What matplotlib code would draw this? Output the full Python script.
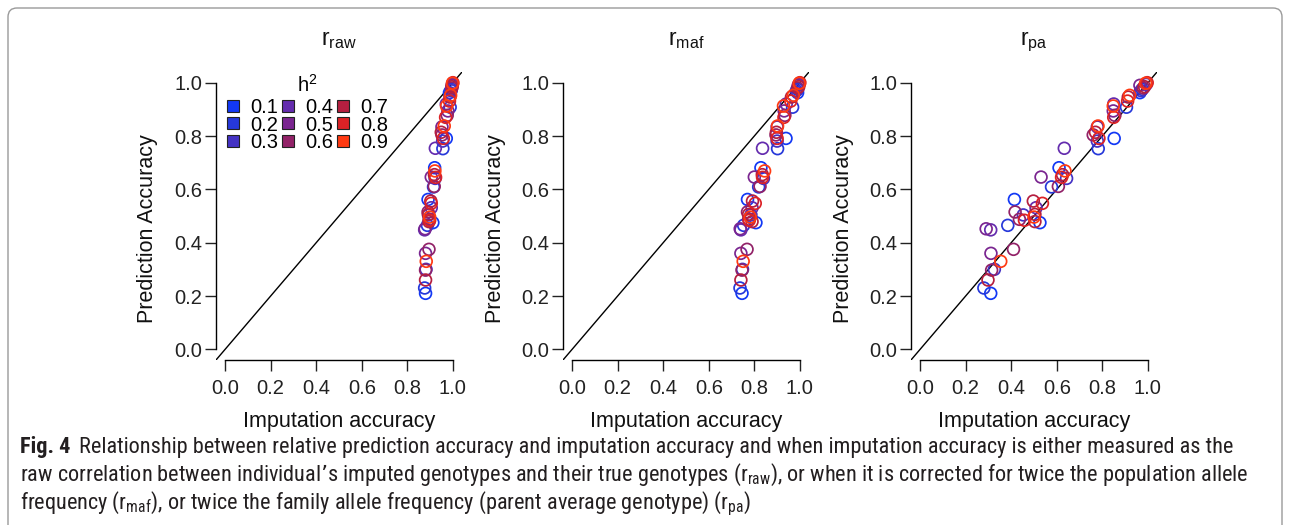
import matplotlib
matplotlib.use("Agg")
import matplotlib.pyplot as plt
from matplotlib import font_manager
from matplotlib.patches import FancyBboxPatch
from matplotlib.lines import Line2D
from matplotlib.transforms import IdentityTransform

# ---------------- data ----------------
h2_levels = [0.1, 0.2, 0.3, 0.4, 0.5, 0.6, 0.7, 0.8, 0.9]
h2_colors = ["#1238F5", "#2638DA", "#4432C4", "#642CAE", "#7A2590",
             "#922268", "#B51F40", "#DC2226", "#FF3A12"]

pred_acc = [0.210, 0.230, 0.260, 0.297, 0.300, 0.330, 0.360, 0.375, 0.448, 0.452,
            0.465, 0.475, 0.479, 0.484, 0.4875, 0.496, 0.504, 0.506, 0.515, 0.531,
            0.5475, 0.556, 0.562, 0.609, 0.611, 0.646, 0.645, 0.641, 0.669, 0.681,
            0.655, 0.754, 0.7525, 0.781, 0.791, 0.791, 0.804, 0.814, 0.834, 0.8375,
            0.870, 0.8775, 0.894, 0.9125, 0.908, 0.920, 0.931, 0.946, 0.9525, 0.9625,
            0.970, 0.980, 0.990, 0.9975, 1.000, 0.985, 0.994, 0.975]
imp_raw = [0.880, 0.876, 0.880, 0.880, 0.882, 0.883, 0.880, 0.895, 0.876, 0.878,
           0.888, 0.912, 0.895, 0.898, 0.896, 0.898, 0.893, 0.893, 0.891, 0.905,
           0.905, 0.903, 0.891, 0.915, 0.918, 0.905, 0.924, 0.922, 0.921, 0.920,
           0.919, 0.923, 0.956, 0.955, 0.971, 0.958, 0.952, 0.949, 0.952, 0.962,
           0.968, 0.975, 0.978, 0.972, 0.988, 0.971, 0.985, 0.987, 0.990, 0.985,
           0.992, 0.995, 0.997, 0.998, 1.000, 0.996, 0.998, 0.993]
imp_maf = [0.746, 0.737, 0.741, 0.746, 0.748, 0.751, 0.741, 0.768, 0.741, 0.738,
           0.753, 0.807, 0.790, 0.778, 0.775, 0.782, 0.785, 0.775, 0.770, 0.790,
           0.804, 0.792, 0.770, 0.819, 0.825, 0.800, 0.836, 0.840, 0.845, 0.829,
           0.835, 0.836, 0.902, 0.900, 0.939, 0.900, 0.895, 0.897, 0.900, 0.902,
           0.930, 0.934, 0.931, 0.928, 0.968, 0.940, 0.960, 0.963, 0.971, 0.990,
           0.985, 0.990, 0.993, 0.997, 1.000, 0.995, 0.996, 0.990]
imp_pa = [0.310, 0.280, 0.298, 0.314, 0.326, 0.354, 0.311, 0.410, 0.310, 0.290,
          0.385, 0.526, 0.504, 0.458, 0.436, 0.500, 0.453, 0.504, 0.417, 0.509,
          0.537, 0.497, 0.414, 0.577, 0.607, 0.531, 0.621, 0.643, 0.636, 0.610,
          0.625, 0.633, 0.782, 0.778, 0.852, 0.785, 0.760, 0.770, 0.778, 0.781,
          0.850, 0.855, 0.848, 0.848, 0.906, 0.850, 0.911, 0.914, 0.920, 0.965,
          0.970, 0.980, 0.965, 0.990, 0.997, 0.985, 0.993, 0.975]
h2_of_point = [0.1, 0.2, 0.7, 0.6, 0.3, 0.9, 0.5, 0.6, 0.4, 0.5,
               0.2, 0.1, 0.7, 0.8, 0.6, 0.9, 0.3, 0.7, 0.6, 0.4,
               0.8, 0.7, 0.1, 0.2, 0.6, 0.5, 0.8, 0.3, 0.9, 0.1,
               0.7, 0.4, 0.2, 0.3, 0.1, 0.8, 0.6, 0.7, 0.5, 0.9,
               0.8, 0.6, 0.5, 0.9, 0.2, 0.4, 0.8, 0.7, 0.9, 0.1,
               0.3, 0.6, 0.5, 0.9, 0.8, 0.7, 0.4, 0.2]

panel_titles = [r"$\mathregular{r_{raw}}$", r"$\mathregular{r_{maf}}$", r"$\mathregular{r_{pa}}$"]
panel_x = [imp_raw, imp_maf, imp_pa]
tick_vals = [0.0, 0.2, 0.4, 0.6, 0.8, 1.0]
tick_labels = ["0.0", "0.2", "0.4", "0.6", "0.8", "1.0"]

caption_bold = "Fig. 4"
caption_lines = [
    "Relationship between relative prediction accuracy and imputation accuracy and when imputation accuracy is either measured as the",
    r"raw correlation between individual’s imputed genotypes and their true genotypes ($\mathregular{r_{raw}}$), or when it is corrected for twice the population allele",
    r"frequency ($\mathregular{r_{maf}}$), or twice the family allele frequency (parent average genotype) ($\mathregular{r_{pa}}$)",
]

# ---------------- figure ----------------
W, H = 1290, 525
plt.rcParams["font.family"] = ["Liberation Sans", "DejaVu Sans"]
fig = plt.figure(figsize=(W / 100, H / 100), dpi=100)
px = IdentityTransform()

names = {f.name for f in font_manager.fontManager.ttflist}
cap_family, cap_stretch = "DejaVu Sans", "condensed"
for cand in ["Liberation Sans Narrow", "Roboto Condensed", "Open Sans Condensed"]:
    if cand in names:
        cap_family, cap_stretch = cand, "normal"
        break

text_col = "#111111"
lefts = [216, 563, 911]
ax_w, ax_h, ax_bottom = 246, 288, 165
for i, left in enumerate(lefts):
    ax = fig.add_axes([left / W, ax_bottom / H, ax_w / W, ax_h / H])
    ax.set_xlim(-0.04, 1.04)
    ax.set_ylim(-0.04, 1.04)
    for s in ["top", "right"]:
        ax.spines[s].set_visible(False)
    for s in ["left", "bottom"]:
        ax.spines[s].set_bounds(0, 1)
        ax.spines[s].set_linewidth(1.0)
    ax.set_xticks(tick_vals)
    ax.set_xticklabels(tick_labels, fontsize=14.5)
    ax.set_yticks(tick_vals)
    ax.set_yticklabels(tick_labels, fontsize=14.5)
    ax.tick_params(axis="both", length=8, width=1.0, color="#222222", labelcolor="#222222")
    ax.tick_params(axis="x", pad=6)
    ax.tick_params(axis="y", pad=2)
    ax.patch.set_visible(False)
    ax.plot([-0.04, 1.04], [-0.04, 1.04], color="black", lw=1.0, zorder=1)
    xs = panel_x[i]
    for lev, col in zip(h2_levels, h2_colors):
        sx = [x for x, h in zip(xs, h2_of_point) if h == lev]
        sy = [y for y, h in zip(pred_acc, h2_of_point) if h == lev]
        ax.scatter(sx, sy, s=72, facecolors="none", edgecolors=col,
                   linewidths=1.25, zorder=2, clip_on=False)
    cx = left + ax_w / 2
    fig.text(cx, H - 45, panel_titles[i], transform=px, ha="center", va="baseline",
             fontsize=16.5, color=text_col)
    fig.text(cx, H - 427, "Imputation accuracy", transform=px, ha="center",
             va="baseline", fontsize=15.5, color=text_col)
    fig.text(left - 68, H - 229, "Prediction Accuracy", transform=px, ha="center",
             va="center", rotation=90, fontsize=15.5, color=text_col)
    if i == 0:
        handles = [Line2D([], [], marker="s", ls="none", markerfacecolor=c,
                          markeredgecolor="#222222", markersize=8, markeredgewidth=0.8)
                   for c in h2_colors]
        leg = ax.legend(handles, [f"{v:.1f}" for v in h2_levels], ncol=3,
                        loc="upper left", bbox_to_anchor=(0.04, 0.995), frameon=False,
                        title=r"$\mathregular{h^2}$", fontsize=14.5, title_fontsize=14.5,
                        handlelength=0.7, handletextpad=0.5, columnspacing=0.15,
                        labelspacing=-0.08, borderaxespad=0, borderpad=0)
        leg._legend_box.sep = 2

# ---------------- caption ----------------
cap_color = "#231F20"
renderer = fig.canvas.get_renderer()
target_right = 1233
base_size = 12.0
probe_b = fig.text(0, 0, caption_bold, transform=px, fontsize=base_size,
                   fontweight="bold", family=cap_family, fontstretch=cap_stretch)
probe_l = fig.text(0, 0, caption_lines[0], transform=px, fontsize=base_size,
                   family=cap_family, fontstretch=cap_stretch)
w_total = (probe_b.get_window_extent(renderer).width
           + probe_l.get_window_extent(renderer).width)
probe_b.remove()
probe_l.remove()
gap = 9
cap_size = base_size * (target_right - 20 - gap) / w_total

tb = fig.text(20, H - 453, caption_bold, transform=px, ha="left", va="baseline",
              fontsize=cap_size, fontweight="bold", family=cap_family,
              fontstretch=cap_stretch, color=cap_color)
bw = tb.get_window_extent(renderer).width
baselines = [453, 481, 509]
for j, (line, yb) in enumerate(zip(caption_lines, baselines)):
    x0 = 20 + bw + gap if j == 0 else 20
    fig.text(x0, H - yb, line, transform=px, ha="left", va="baseline",
             fontsize=cap_size, family=cap_family, fontstretch=cap_stretch,
             color=cap_color)

# ---------------- frame ----------------
frame = FancyBboxPatch((8, -30), 1274, H - 8 + 30,
                       boxstyle="round,pad=0,rounding_size=9", transform=px,
                       fill=False, edgecolor="#9A9A9A", lw=1.0)
fig.add_artist(frame)

fig.savefig("out.png", dpi=100)
